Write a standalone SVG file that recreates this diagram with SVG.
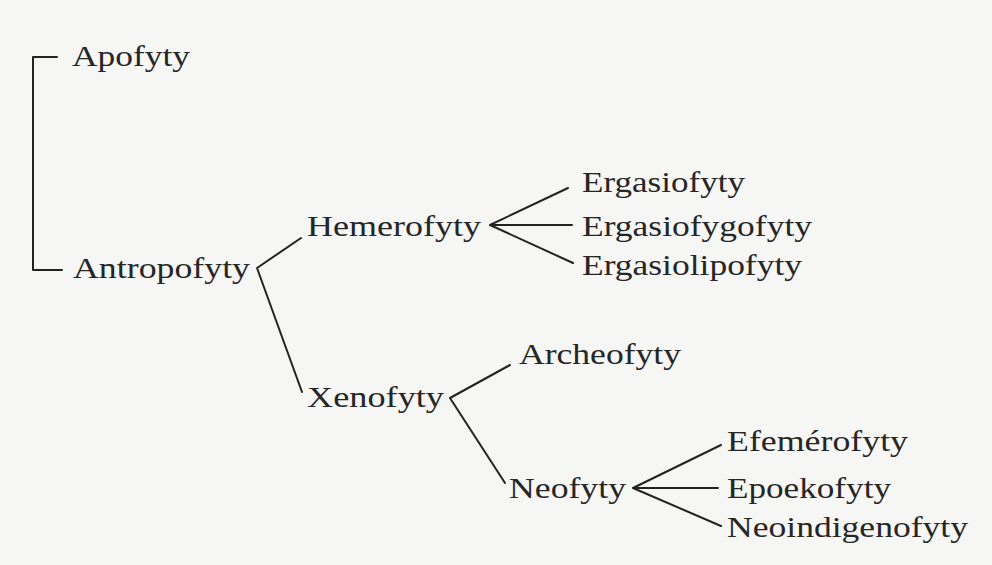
<svg xmlns="http://www.w3.org/2000/svg" width="992" height="565" viewBox="0 0 992 565">
<style>
.t{font-family:"Liberation Serif","Times New Roman",serif;font-size:29.5px;fill:#262626}
.c{stroke:#222;stroke-width:2;fill:none;stroke-linecap:round;stroke-linejoin:round}
</style>
<rect width="992" height="565" fill="#f6f6f4"/>
<g id="connectors">
<path class="c" d="M57,57 H33 V270 H62"/>
<path class="c" d="M301,238 L257,268 L302,392"/>
<path class="c" d="M568,188 L490,225 L572,225 M490,225 L573,263"/>
<path class="c" d="M510,365 L450,398 L505,483"/>
<path class="c" d="M721,445 L633,488 L718,488 M633,488 L721,526"/>
</g>
<g id="apofyty"><text class="t" x="72" y="66" textLength="118" lengthAdjust="spacingAndGlyphs">Apofyty</text></g>
<g id="antropofyty"><text class="t" x="73" y="278" textLength="177" lengthAdjust="spacingAndGlyphs">Antropofyty</text></g>
<g id="hemerofyty"><text class="t" x="307" y="236" textLength="174" lengthAdjust="spacingAndGlyphs">Hemerofyty</text></g>
<g id="xenofyty"><text class="t" x="307" y="407" textLength="137" lengthAdjust="spacingAndGlyphs">Xenofyty</text></g>
<g id="ergasiofyty"><text class="t" x="582" y="192" textLength="163" lengthAdjust="spacingAndGlyphs">Ergasiofyty</text></g>
<g id="ergasiofygofyty"><text class="t" x="582" y="236" textLength="230" lengthAdjust="spacingAndGlyphs">Ergasiofygofyty</text></g>
<g id="ergasiolipofyty"><text class="t" x="582" y="275" textLength="220" lengthAdjust="spacingAndGlyphs">Ergasiolipofyty</text></g>
<g id="archeofyty"><text class="t" x="519" y="364" textLength="162" lengthAdjust="spacingAndGlyphs">Archeofyty</text></g>
<g id="neofyty"><text class="t" x="509" y="498" textLength="117" lengthAdjust="spacingAndGlyphs">Neofyty</text></g>
<g id="efemerofyty"><text class="t" x="727" y="451" textLength="181" lengthAdjust="spacingAndGlyphs">Efemérofyty</text></g>
<g id="epoekofyty"><text class="t" x="727" y="498" textLength="164" lengthAdjust="spacingAndGlyphs">Epoekofyty</text></g>
<g id="neoindigenofyty"><text class="t" x="727" y="537" textLength="241" lengthAdjust="spacingAndGlyphs">Neoindigenofyty</text></g>
</svg>
